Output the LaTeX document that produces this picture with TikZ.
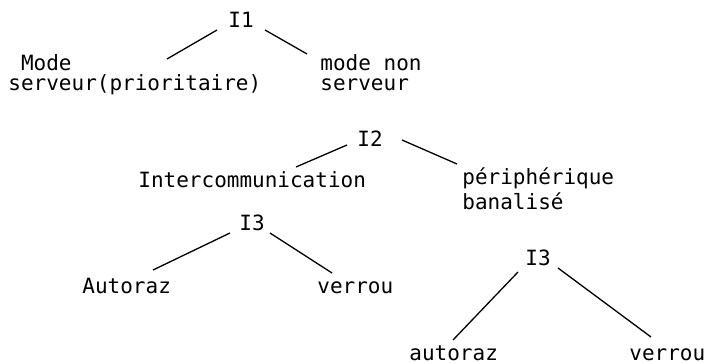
\documentclass[tikz,border=0pt]{standalone}
\usepackage{fontspec}
\setmonofont{DejaVu Sans Mono}
\usetikzlibrary{calc}
\tikzset{
  lbl/.style={font=\ttfamily\fontsize{10.5}{10}\selectfont, inner sep=0pt, anchor=base west, align=left},
  inode/.style={lbl, anchor=base},
  branch/.style={line width=0.65pt},
}
\begin{document}
\begin{tikzpicture}[x=0.5pt,y=-0.5pt]
        \useasboundingbox (0,0) rectangle (706,363);
        %% level I1
        \node[inode] (i1) at (241,28) {I1};
        \node[lbl] (serv) at (8,91) {~Mode\\serveur(prioritaire)};
        \node[lbl] (nonserv) at (320,91) {mode non\\serveur};
        %% level I2
        \node[inode] (i2) at (370,147) {I2};
        \node[lbl] (inter) at (138,188) {Intercommunication};
        \node[lbl] (periph) at (462,210) {périphérique\\[1pt]banalisé};
        %% level I3, intercommunication
        \node[inode] (i3a) at (252,230) {I3};
        \node[lbl] (auto1) at (82,293) {Autoraz};
        \node[lbl] (verrou1) at (317,293) {verrou};
        %% level I3, peripherique
        \node[inode] (i3b) at (538,265) {I3};
        \node[lbl] (auto2) at (409,360) {autoraz};
        \node[lbl] (verrou2) at (629,360) {verrou};
        %% branches
        \foreach \a/\px/\py/\b/\qx/\qy in {i1/-24/2/serv/159/-32, i1/24/2/nonserv/-13/-37,
            i2/-23/-2/inter/158/-21, i2/32/-7/periph/-5/-46,
            i3a/-22/3/auto1/71/-23, i3a/18/3/verrou1/15/-20,
            i3b/-20/7/auto2/44/-20, i3b/20/3/verrou2/22/-23}
            \draw[branch] ($(\a.base)+(\px,\py)$) -- ($(\b.base west)+(\qx,\qy)$);
    \end{tikzpicture}
\end{document}
